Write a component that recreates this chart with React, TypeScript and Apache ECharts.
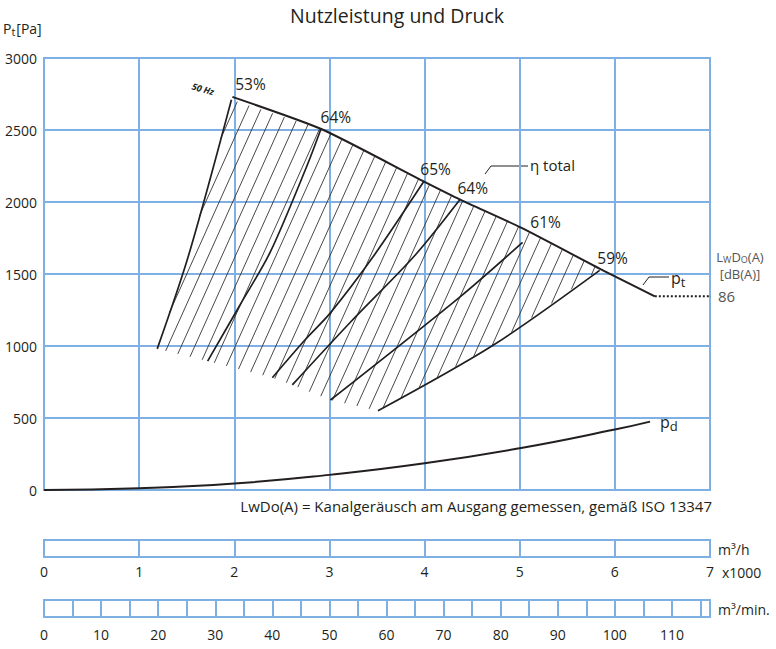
import React, { useEffect, useRef } from 'react';
import * as echarts from 'echarts';

// ---- axis ranges / ticks ----
const flowMax = 7; // x1000 m³/h
const flowPerMinMax = 7000 / 60; // m³/min
const pressureMax = 3000;
const pressureStep = 500;

// ---- curves (flow in 1000 m³/h, pressure in Pa) ----
const ptCurve = [
  [1.98, 2730], [2.92, 2505], [4.0, 2140], [4.38, 2015], [5.02, 1820], [5.89, 1520], [6.42, 1345],
];
const noiseLine = [[6.42, 1345], [7.16, 1345]];
const noiseLevel = 86;
const pdCurve = [
  [0, 0], [1, 12], [2, 45], [3, 105], [4, 185], [5, 290], [6, 420], [6.37, 475],
];
const curve53 = [[1.19, 980], [1.52, 1630], [1.97, 2710]];
const curve64a = [[1.72, 895], [2.06, 1285], [2.38, 1655], [2.76, 2245], [2.91, 2505]];
const curve65 = [[2.4, 780], [2.74, 1040], [3.01, 1230], [3.47, 1630], [3.99, 2140]];
const curve64b = [[2.61, 730], [3.22, 1165], [3.9, 1630], [4.37, 2015]];
const curve61 = [[3.01, 625], [4.37, 1340], [5.03, 1720]];
const curve59 = [[3.51, 550], [4.72, 1005], [5.84, 1525]];
const fanCurves = [curve53, curve64a, curve65, curve64b, curve61, curve59];
const effLabels = ['53%', '64%', '65%', '64%', '61%', '59%'];

// hatched operating region outline
const hatchRegion = [
  [1.97, 2710], [2.92, 2505], [4.0, 2140], [4.38, 2015], [5.02, 1820], [5.84, 1535],
  [4.72, 1005], [3.51, 550], [3.01, 625], [2.61, 730], [2.4, 780], [1.72, 895], [1.19, 980], [1.52, 1630],
];
const hatchAnchor = [2.165, 2684];

// ---- styles ----
const BLUE = '#7fb0e4';
const INK = '#231f20';
const GREY = '#555555';
const FONT = 'Open Sans';
const HATCH_DX = 0.45; // px of x per px of y
const HATCH_SPACING = 13.5; // horizontal px
const effOffsets = [[19, -16], [15, -12], [12, -13], [13, -12], [23, -20], [13, -12]];

function hatchItem(params: any, api: any) {
  if (params.dataIndex !== 0) return null;
  const poly = hatchRegion.map((p) => api.coord(p));
  const anchor = api.coord(hatchAnchor);
  const len = Math.hypot(HATCH_DX, 1);
  const d = [HATCH_DX / len, -1 / len];
  const n = [1 / len, HATCH_DX / len];
  const proj = poly.map((p: number[]) => (p[0] - anchor[0]) * n[0] + (p[1] - anchor[1]) * n[1]);
  const step = HATCH_SPACING / len;
  const lo = Math.ceil(Math.min(...proj) / step);
  const hi = Math.floor(Math.max(...proj) / step);
  const children: any[] = [];
  for (let k = lo; k <= hi; k++) {
    const c = k * step;
    const ts: number[][] = [];
    for (let i = 0; i < poly.length; i++) {
      const j = (i + 1) % poly.length;
      const pa = proj[i];
      const pb = proj[j];
      if ((pa <= c && pb > c) || (pb <= c && pa > c)) {
        const s = (c - pa) / (pb - pa);
        const qx = poly[i][0] + s * (poly[j][0] - poly[i][0]);
        const qy = poly[i][1] + s * (poly[j][1] - poly[i][1]);
        ts.push([qx, qy, (qx - anchor[0]) * d[0] + (qy - anchor[1]) * d[1]]);
      }
    }
    ts.sort((a, b) => a[2] - b[2]);
    for (let m = 0; m + 1 < ts.length; m += 2) {
      children.push({
        type: 'line',
        shape: { x1: ts[m][0], y1: ts[m][1], x2: ts[m + 1][0], y2: ts[m + 1][1] },
        style: { stroke: '#333333', lineWidth: 0.9 },
      });
    }
  }
  return { type: 'group', children };
}

export default function App() {
  const ref = useRef<HTMLDivElement>(null);
  useEffect(() => {
    if (!ref.current) return;
    const chart = echarts.init(ref.current, undefined, { renderer: 'svg' });
    const splitLine = { show: true, lineStyle: { color: BLUE, width: 2 } };
    const hiddenAxis = { axisLine: { show: false }, axisTick: { show: false } };
    const option: any = {
      animation: false,
      textStyle: { fontFamily: FONT },
      grid: [
        { left: 44, top: 58, width: 666, height: 432, show: true, borderColor: BLUE, borderWidth: 2 },
        { left: 44, top: 540, width: 666, height: 17, show: true, borderColor: BLUE, borderWidth: 2 },
        { left: 44, top: 600, width: 666, height: 17, show: true, borderColor: BLUE, borderWidth: 2 },
      ],
      xAxis: [
        { type: 'value', gridIndex: 0, min: 0, max: flowMax, interval: 1, ...hiddenAxis, axisLabel: { show: false }, splitLine },
        {
          type: 'value', gridIndex: 1, min: 0, max: flowMax, interval: 1, ...hiddenAxis, splitLine,
          axisLabel: { fontSize: 14, color: INK, margin: 7, fontFamily: FONT },
        },
        {
          type: 'value', gridIndex: 2, min: 0, max: flowPerMinMax, interval: 5, ...hiddenAxis, splitLine,
          axisLabel: {
            fontSize: 14, color: INK, margin: 10, fontFamily: FONT, showMaxLabel: false,
            formatter: (v: number) => {
              const r = Math.round(v);
              return Math.abs(v - r) < 1e-6 && r % 10 === 0 ? String(r) : '';
            },
          },
        },
      ],
      yAxis: [
        {
          type: 'value', gridIndex: 0, min: 0, max: pressureMax, interval: pressureStep, ...hiddenAxis, splitLine,
          axisLabel: { fontSize: 14, color: INK, margin: 7, fontFamily: FONT, formatter: (v: number) => String(v) },
        },
        { type: 'value', gridIndex: 1, min: 0, max: 1, show: false },
        { type: 'value', gridIndex: 2, min: 0, max: 1, show: false },
      ],
      series: [
        {
          type: 'custom', xAxisIndex: 0, yAxisIndex: 0, data: hatchRegion, renderItem: hatchItem,
          clip: false, silent: true, z: 1,
        },
        ...fanCurves.map((c) => ({
          type: 'line', data: c, smooth: 0.3, showSymbol: false, symbol: 'none', z: 3,
          lineStyle: { color: INK, width: 1.7 },
        })),
        {
          type: 'line', data: ptCurve, smooth: 0.2, symbol: 'none', z: 4,
          lineStyle: { color: INK, width: 2 },
        },
        {
          type: 'line', data: noiseLine, symbol: 'none', clip: false, z: 4,
          lineStyle: { color: INK, width: 2, type: [2, 2] },
          endLabel: { show: true, formatter: String(noiseLevel), color: GREY, fontSize: 15, distance: 7, fontFamily: FONT },
        },
        {
          type: 'line', data: pdCurve, smooth: true, symbol: 'none', z: 4,
          lineStyle: { color: INK, width: 2 },
          endLabel: {
            show: true, distance: 10, formatter: '{p|p}{s|d}', color: INK,
            rich: {
              p: { fontSize: 16, fontFamily: FONT, color: INK, verticalAlign: 'top', lineHeight: 16 },
              s: { fontSize: 13, fontFamily: FONT, color: INK, verticalAlign: 'top', lineHeight: 13, padding: [6, 0, 0, 0] },
            },
          },
        },
        {
          type: 'scatter', symbolSize: 0, z: 5,
          data: fanCurves.map((c, i) => {
            const top = c[c.length - 1];
            return {
              value: [top[0], top[1]],
              name: effLabels[i],
              label: { offset: effOffsets[i] },
            };
          }),
          label: {
            show: true, position: 'inside', formatter: (p: any) => p.name,
            fontSize: 15.5, color: INK, fontFamily: FONT, textBorderWidth: 0, textBorderColor: 'transparent',
            opacity: 1,
          },
        },
      ],
      graphic: {
        elements: [
          {
            type: 'text', x: 397, y: 15,
            style: { text: 'Nutzleistung und Druck', fontSize: 19.5, fontFamily: FONT, fill: INK, textAlign: 'center', textVerticalAlign: 'middle' },
          },
          {
            type: 'text', x: 3, y: 21,
            style: {
              text: '{a|P}{b|t}{a|[Pa]}', fill: INK,
              rich: {
                a: { fontSize: 14, fontFamily: FONT, fill: INK, verticalAlign: 'top', lineHeight: 16 },
                b: { fontSize: 11, fontFamily: FONT, fill: INK, verticalAlign: 'top', lineHeight: 12, padding: [5, 1, 0, 0] },
              },
            },
          },
          {
            type: 'text', x: 203, y: 89, rotation: -0.27,
            style: { text: '50 Hz', font: 'italic bold 9px "Open Sans"', fill: INK, textAlign: 'center', textVerticalAlign: 'middle' },
          },
          {
            type: 'polyline', shape: { points: [[485, 174], [491, 166], [528, 166]] },
            style: { stroke: INK, lineWidth: 1, fill: null },
          },
          {
            type: 'text', x: 530, y: 165,
            style: { text: 'η total', fontSize: 15, fontFamily: FONT, fill: INK, textVerticalAlign: 'middle' },
          },
          {
            type: 'polyline', shape: { points: [[643, 285], [649, 277], [669, 277]] },
            style: { stroke: INK, lineWidth: 1, fill: null },
          },
          {
            type: 'text', x: 671, y: 270,
            style: {
              text: '{p|p}{s|t}', fill: INK,
              rich: {
                p: { fontSize: 16, fontFamily: FONT, fill: INK, verticalAlign: 'top', lineHeight: 16 },
                s: { fontSize: 13, fontFamily: FONT, fill: INK, verticalAlign: 'top', lineHeight: 13, padding: [5, 0, 0, 0] },
              },
            },
          },
          {
            type: 'text', x: 740, y: 250,
            style: {
              text: '{a|L}{b|W}{a|D}{b|O}{a|(A)}', fill: GREY, textAlign: 'center',
              rich: {
                a: { fontSize: 13, fontFamily: FONT, fill: GREY, verticalAlign: 'top', lineHeight: 14 },
                b: { fontSize: 9, fontFamily: FONT, fill: GREY, verticalAlign: 'top', lineHeight: 10, padding: [5, 0, 0, 0] },
              },
            },
          },
          {
            type: 'text', x: 740, y: 274,
            style: { text: '[dB(A)]', fontSize: 13, fontFamily: FONT, fill: GREY, textAlign: 'center', textVerticalAlign: 'middle' },
          },
          {
            type: 'text', x: 712, y: 506,
            style: {
              text: 'LwDo(A) = Kanalgeräusch am Ausgang gemessen, gemäß ISO 13347',
              fontSize: 15, fontFamily: FONT, fill: INK, textAlign: 'right', textVerticalAlign: 'middle',
            },
          },
          {
            type: 'text', x: 718, y: 549,
            style: { text: 'm³/h', fontSize: 14, fontFamily: FONT, fill: INK, textVerticalAlign: 'middle' },
          },
          {
            type: 'text', x: 722, y: 572,
            style: { text: 'x1000', fontSize: 14, fontFamily: FONT, fill: INK, textVerticalAlign: 'middle' },
          },
          {
            type: 'text', x: 718, y: 609,
            style: { text: 'm³/min.', fontSize: 14, fontFamily: FONT, fill: INK, textVerticalAlign: 'middle' },
          },
        ],
      },
    };
    chart.setOption(option);
    return () => chart.dispose();
  }, []);
  return <div ref={ref} style={{ position: 'fixed', left: 0, top: 0, width: 776, height: 649, background: '#fff' }} />;
}
